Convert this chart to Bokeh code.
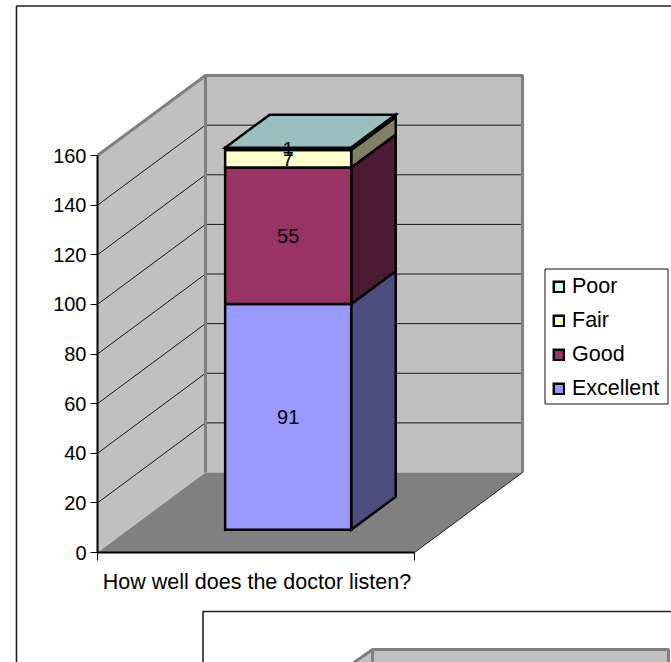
from bokeh.plotting import figure
from bokeh.embed import file_html
from bokeh.resources import INLINE
from bokeh.models import Range1d, FixedTicker, Legend, LegendItem
from bokeh.core.properties import value

# ---- data ----
category = "How well does the doctor listen?"
series = ["Excellent", "Good", "Fair", "Poor"]
series_values = [91, 55, 7, 1]
value_ticks = [0, 20, 40, 60, 80, 100, 120, 140, 160]
front_colors = ["#9999FF", "#993366", "#FFFFCC", "#CCFFFF"]
side_colors = ["#4D4D80", "#4D1A33", "#808066", "#668080"]
top_color = "#99BFBF"

# ---- layout (pixels of the page) ----
W, H = 671, 662
X0, X1, Y0 = 97, 414, 552
PX_PER_V = 2.481
UX = X1 - X0
DEPTH_PX, DEPTH_PY = 108, 80
FONT = value("Liberation Sans")
FS = "20px"
FS_LARGE = "21.5px"


def dx(x, d=0.0):
    return x + d * DEPTH_PX / UX


def dy(v, d=0.0):
    return v + d * DEPTH_PY / PX_PER_V


def sx(px):
    return (px - X0) / UX


def sy(py):
    return (Y0 - py) / PX_PER_V


p = figure(width=W, height=H, output_backend="svg", toolbar_location=None,
           x_range=Range1d(sx(0), sx(W)), y_range=Range1d(sy(H), sy(0)),
           min_border=0, outline_line_color=None, background_fill_color="white")
p.styles = {"position": "absolute", "left": "0px", "top": "0px"}
p.grid.visible = False

# chart-area frames
p.line([sx(16), sx(16), sx(W + 5)], [sy(H + 5), sy(5.5), sy(5.5)], line_color="#222222", line_width=1.6)
p.line([sx(202.5), sx(202.5), sx(W + 5)], [sy(H + 5), sy(611), sy(611)], line_color="#222222", line_width=1.6)

top = value_ticks[-1]
# walls and floor
p.patch([dx(0), dx(0, 1), dx(0, 1), dx(0)], [dy(0), dy(0, 1), dy(top, 1), dy(top)],
        fill_color="#C0C0C0", line_color=None)
p.patch([dx(0, 1), dx(1, 1), dx(1, 1), dx(0, 1)], [dy(0, 1), dy(0, 1), dy(top, 1), dy(top, 1)],
        fill_color="#C0C0C0", line_color=None)
for v in value_ticks[1:-1]:
    p.line([dx(0), dx(0, 1), dx(1, 1)], [dy(v), dy(v, 1), dy(v, 1)], line_color="#1a1a1a", line_width=1)
p.line([dx(0), dx(0, 1), dx(1, 1), dx(1, 1)], [dy(top), dy(top, 1), dy(top, 1), dy(0, 1)],
       line_color="#808080", line_width=3)
p.line([dx(0, 1), dx(0, 1)], [dy(0, 1), dy(top, 1)], line_color="#808080", line_width=3)
p.patch([dx(0), dx(1), dx(1, 1), dx(0, 1)], [dy(0), dy(0), dy(0, 1), dy(0, 1)],
        fill_color="#808080", line_color=None)
p.line([dx(1), dx(1, 1)], [dy(0), dy(0, 1)], line_color="#222222", line_width=1)

# stacked 3-D column
bx0, bx1, d0, d1 = 0.3056, 0.7032, 0.285, 0.6975
STROKE = 2.5
legend_renderers = {}
label_levels = []
base = 0
for name, h, fc, sc in zip(series, series_values, front_colors, side_colors):
    t = base + h
    p.patch([dx(bx1, d0), dx(bx1, d1), dx(bx1, d1), dx(bx1, d0)],
            [dy(base, d0), dy(base, d1), dy(t, d1), dy(t, d0)],
            fill_color=sc, line_color="black", line_width=STROKE, line_join="miter")
    legend_renderers[name] = p.patch([dx(bx0, d0), dx(bx1, d0), dx(bx1, d0), dx(bx0, d0)],
                                     [dy(base, d0), dy(base, d0), dy(t, d0), dy(t, d0)],
                                     fill_color=fc, line_color="black", line_width=STROKE, line_join="miter")
    label_levels.append(base + h / 2)
    base = t
p.patch([dx(bx0, d0), dx(bx1, d0), dx(bx1, d1), dx(bx0, d1)],
        [dy(base, d0), dy(base, d0), dy(base, d1), dy(base, d1)],
        fill_color=top_color, line_color="black", line_width=STROKE, line_join="miter")

# data labels
p.text([dx((bx0 + bx1) / 2, d0)] * 4, [dy(v, d0) for v in label_levels], text=[str(v) for v in series_values],
       text_font=FONT, text_font_size=FS, text_color="black", text_align="center", text_baseline="middle")

# second chart, cut off by the window
p.patch([sx(345), sx(372), sx(668), sx(668), sx(345)], [sy(668), sy(649), sy(649), sy(668), sy(668)],
        fill_color="#C0C0C0", line_color="#808080", line_width=3)
p.line([sx(372), sx(372)], [sy(649), sy(668)], line_color="#808080", line_width=3)

# axes
yax = p.yaxis[0]
yax.fixed_location = 0
yax.ticker = FixedTicker(ticks=value_ticks)
yax.bounds = (0, top)
yax.axis_line_color = "black"
yax.axis_line_width = 2
yax.major_tick_out = 7
yax.major_tick_in = 0
yax.major_tick_line_color = "black"
yax.minor_tick_line_color = None
yax.major_label_text_font = "Liberation Sans"
yax.major_label_text_font_size = FS
yax.major_label_text_color = "black"
yax.major_label_standoff = 4

xax = p.xaxis[0]
xax.fixed_location = 0
xax.ticker = FixedTicker(ticks=[0, 1])
xax.bounds = (0, 1)
xax.axis_line_color = "black"
xax.axis_line_width = 2
xax.major_tick_out = 8
xax.major_tick_in = 0
xax.major_tick_line_color = "black"
xax.minor_tick_line_color = None
xax.major_label_overrides = {0: "", 1: ""}

p.text([0.5], [sy(581)], text=[category], text_font=FONT, text_font_size=FS_LARGE, text_color="black",
       text_align="center", text_baseline="middle", x_offset=[1])

# legend box, then the legend on it
p.patch([sx(544.5), sx(667.5), sx(667.5), sx(544.5)], [sy(403.5), sy(403.5), sy(268.5), sy(268.5)],
        fill_color="white", line_color="#111111", line_width=1)
legend = Legend(items=[LegendItem(label=n, renderers=[legend_renderers[n]]) for n in reversed(series)],
                location=(552, H - 401), orientation="vertical",
                background_fill_alpha=0, border_line_color=None,
                label_text_font="Liberation Sans", label_text_font_size=FS_LARGE, label_text_color="black",
                glyph_width=13, glyph_height=13, label_standoff=7, spacing=9, padding=4, margin=0,
                label_height=24)
p.add_layout(legend, "center")

open("out.html", "w").write(file_html(p, INLINE))
